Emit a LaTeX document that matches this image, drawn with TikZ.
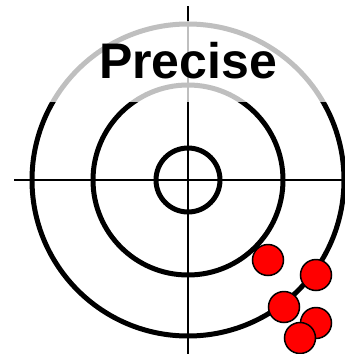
\documentclass[tikz,border=0pt]{standalone}
\usepackage{fontspec}
\setsansfont{Liberation Sans}
\usetikzlibrary{positioning}

\begin{document}
\begin{tikzpicture}[x=1pt, y=-1pt,
  ring/.style={line width=5pt},
  hair/.style={line width=2pt},
  shot/.style={circle, draw=black, line width=1.5pt, fill=red, minimum size=31pt, inner sep=0pt}]
  \useasboundingbox (0,0) rectangle (345,354);
  \coordinate (center) at (188,180);
  \coordinate (top) at (188,6);
  \coordinate (bottom) at (188,354);
  \coordinate (left) at (14,180);
  \coordinate (right) at (345,180);

  % cross hairs
  \draw[hair] (top) -- (bottom);
  \draw[hair] (left) -- (right);

  % rings
  \draw[ring] (center) circle[radius=156pt];
  \draw[ring] (center) circle[radius=95pt];
  \draw[ring] (center) circle[radius=32pt];

  % title over a light veil
  \fill[white, fill opacity=0.75] (0,21) rectangle (345,102);
  \node[font=\sffamily\bfseries\fontsize{50}{50}\selectfont, anchor=base, inner sep=0pt] (title) at (188,78) {Precise};

  % hits
  \node[shot] (hit1) at (268,260) {};
  \node[shot] (hit2) at (316,275) {};
  \node[shot] (hit3) at (284,307) {};
  \node[shot] (hit4) at (316,323) {};
  \node[shot] (hit5) at (300,338) {};
\end{tikzpicture}
\end{document}
